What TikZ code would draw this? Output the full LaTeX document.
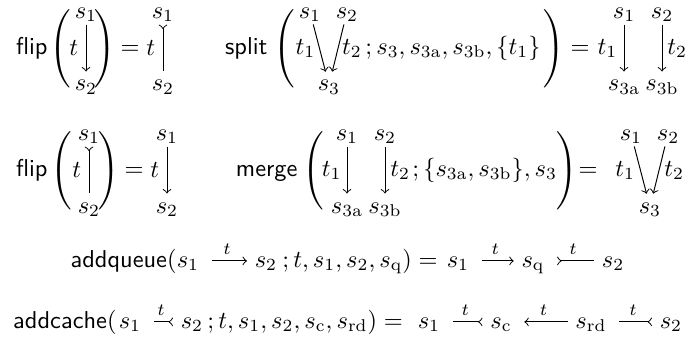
\documentclass[tikz,border=0pt]{standalone}
\usepackage{amsmath,amssymb}
\usepackage{graphicx}
\usetikzlibrary{positioning}

\newcommand{\tallparen}[2]{\resizebox*{\width}{34pt}{$\left#1\vcenter{\hbox{\rule{0pt}{38pt}}}\right#2$}}

\tikzset{
  state/.style={inner sep=0pt, text height=5pt, text depth=0pt},
  txt/.style={inner sep=0pt},
  op/.style={inner sep=0pt, font=\sffamily},
  lbl/.style={inner sep=0pt},
  varr/.style={shorten <=2.5pt, shorten >=2.8pt},
  harr/.style={shorten <=5pt, shorten >=3pt}
}

\begin{document}
\begin{tikzpicture}[x=0.41pt, y=-0.41pt, >=to]
\useasboundingbox (0,0) rectangle (688,340);

% flip, first row
\node[op, anchor=base east] (fa-op) at (48,54) {flip};
\node[txt, anchor=base] (fa-l) at (62,54) {\tallparen(.};
\node[state, anchor=base] (fa-s1) at (86,18) {$s_1$};
\node[state, anchor=base] (fa-s2) at (86,91) {$s_2$};
\node[txt, anchor=base] (fa-r) at (104,54) {\tallparen.)};
\node[txt, anchor=base] (fa-eq) at (130,54) {$=$};
\node[state, anchor=base] (fa-s3) at (163,18) {$s_1$};
\node[state, anchor=base] (fa-s4) at (163,91) {$s_2$};
\draw[->, varr] (fa-s1) -- node[lbl, left=3pt] (fa-t1) {$t$} (fa-s2);
\draw[>-, varr] (fa-s3) -- node[lbl, left=3pt] (fa-t2) {$t$} (fa-s4);

% split
\node[op, anchor=base east] (sa-op) at (268,54) {split};
\node[txt, anchor=base] (sa-l) at (286,54) {\tallparen(.};
\node[state, anchor=base] (sa-s1) at (310,18) {$s_1$};
\node[state, anchor=base] (sa-s2) at (347,18) {$s_2$};
\node[state, anchor=base] (sa-s3) at (329,91) {$s_3$};
\node[txt, anchor=base west] (sa-args) at (365,54) {$;s_3, s_{3\mathrm{a}}, s_{3\mathrm{b}}, \{t_1\}$};
\node[txt, anchor=base] (sa-r) at (553,54) {\tallparen.)};
\node[txt, anchor=base] (sa-eq) at (580,54) {$=$};
\node[state, anchor=base] (sa-s4) at (624,18) {$s_1$};
\node[state, anchor=base] (sa-s5) at (662,18) {$s_2$};
\node[state, anchor=base] (sa-s6) at (624,91) {$s_{3\mathrm{a}}$};
\node[state, anchor=base] (sa-s7) at (662,91) {$s_{3\mathrm{b}}$};
\draw[->, varr] (sa-s1) -- node[lbl, left=1.5pt] (sa-t1) {$t_1$} (sa-s3);
\draw[->, varr] (sa-s2) -- node[lbl, right=1.5pt] (sa-t2) {$t_2$} (sa-s3);
\draw[->, varr] (sa-s4) -- node[lbl, left=2.5pt] (sa-t3) {$t_1$} (sa-s6);
\draw[->, varr] (sa-s5) -- node[lbl, right=2pt] (sa-t4) {$t_2$} (sa-s7);

% flip, second row
\node[op, anchor=base east] (fb-op) at (48,176) {flip};
\node[txt, anchor=base] (fb-l) at (63,176) {\tallparen(.};
\node[state, anchor=base] (fb-s1) at (89,140) {$s_1$};
\node[state, anchor=base] (fb-s2) at (89,213) {$s_2$};
\node[txt, anchor=base] (fb-r) at (108,176) {\tallparen.)};
\node[txt, anchor=base] (fb-eq) at (134,176) {$=$};
\node[state, anchor=base] (fb-s3) at (167,140) {$s_1$};
\node[state, anchor=base] (fb-s4) at (167,213) {$s_2$};
\draw[>-, varr] (fb-s1) -- node[lbl, left=3pt] (fb-t1) {$t$} (fb-s2);
\draw[->, varr] (fb-s3) -- node[lbl, left=3pt] (fb-t2) {$t$} (fb-s4);

% merge
\node[op, anchor=base east] (ma-op) at (298,176) {merge};
\node[txt, anchor=base] (ma-l) at (315,176) {\tallparen(.};
\node[state, anchor=base] (ma-s1) at (347,140) {$s_1$};
\node[state, anchor=base] (ma-s2) at (385,140) {$s_2$};
\node[state, anchor=base] (ma-s3) at (347,213) {$s_{3\mathrm{a}}$};
\node[state, anchor=base] (ma-s4) at (385,213) {$s_{3\mathrm{b}}$};
\node[txt, anchor=base west] (ma-args) at (412,176) {$;\{s_{3\mathrm{a}}, s_{3\mathrm{b}}\}, s_3$};
\node[txt, anchor=base] (ma-r) at (566,176) {\tallparen.)};
\node[txt, anchor=base] (ma-eq) at (588,176) {$=$};
\node[state, anchor=base] (ma-s5) at (631,140) {$s_1$};
\node[state, anchor=base] (ma-s6) at (668,140) {$s_2$};
\node[state, anchor=base] (ma-s7) at (650,213) {$s_3$};
\draw[->, varr] (ma-s1) -- node[lbl, left=2pt] (ma-t1) {$t_1$} (ma-s3);
\draw[->, varr] (ma-s2) -- node[lbl, right=2pt] (ma-t2) {$t_2$} (ma-s4);
\draw[->, varr] (ma-s5) -- node[lbl, left=2pt] (ma-t3) {$t_1$} (ma-s7);
\draw[->, varr] (ma-s6) -- node[lbl, right=2pt] (ma-t4) {$t_2$} (ma-s7);

% addqueue
\node[op, anchor=base east] (aq-op) at (177,267) {addqueue$($};
\node[state, anchor=base] (aq-s1) at (188,267) {$s_1$};
\node[state, anchor=base] (aq-s2) at (266,267) {$s_2$};
\node[txt, anchor=base west] (aq-args) at (282,267) {$;t, s_1, s_2, s_{\mathrm{q}}) =$};
\node[state, anchor=base] (aq-s3) at (458,267) {$s_1$};
\node[state, anchor=base] (aq-s4) at (533,267) {$s_{\mathrm{q}}$};
\node[state, anchor=base] (aq-s5) at (613,267) {$s_2$};
\draw[->, harr] (aq-s1) -- node[lbl, above=2.5pt] (aq-t1) {$\scriptstyle t$} (aq-s2);
\draw[->, harr] (aq-s3) -- node[lbl, above=2.5pt] (aq-t2) {$\scriptstyle t$} (aq-s4);
\draw[>-, harr] (aq-s4) -- node[lbl, above=2.5pt] (aq-t3) {$\scriptstyle t$} (aq-s5);

% addcache
\node[op, anchor=base east] (ac-op) at (117,328) {addcache$($};
\node[state, anchor=base] (ac-s1) at (130,328) {$s_1$};
\node[state, anchor=base] (ac-s2) at (192,328) {$s_2$};
\node[txt, anchor=base west] (ac-args) at (207,328) {$;t, s_1, s_2, s_{\mathrm{c}}, s_{\mathrm{rd}}) =$};
\node[state, anchor=base] (ac-s3) at (429,328) {$s_1$};
\node[state, anchor=base] (ac-s4) at (501,328) {$s_{\mathrm{c}}$};
\node[state, anchor=base] (ac-s5) at (591,328) {$s_{\mathrm{rd}}$};
\node[state, anchor=base] (ac-s6) at (671,328) {$s_2$};
\draw[-<, harr] (ac-s1) -- node[lbl, above=2.5pt] (ac-t1) {$\scriptstyle t$} (ac-s2);
\draw[-<, harr] (ac-s3) -- node[lbl, above=2.5pt] (ac-t2) {$\scriptstyle t$} (ac-s4);
\draw[<-, harr] (ac-s4) -- node[lbl, above=2.5pt] (ac-t3) {$\scriptstyle t$} (ac-s5);
\draw[-<, harr] (ac-s5) -- node[lbl, above=2.5pt] (ac-t4) {$\scriptstyle t$} (ac-s6);
\end{tikzpicture}
\end{document}
